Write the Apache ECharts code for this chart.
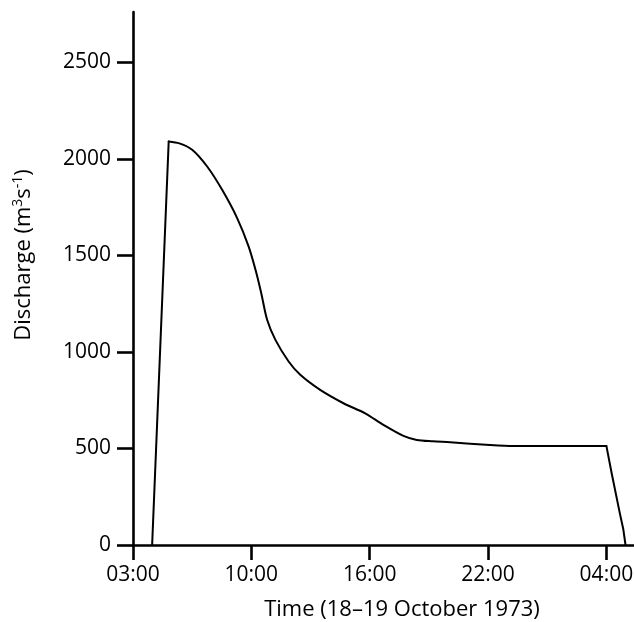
<!DOCTYPE html>
<html>
<head>
<meta charset="utf-8">
<script src="https://cdn.jsdelivr.net/npm/echarts@6/dist/echarts.min.js"></script>
<style>
  html, body { margin: 0; padding: 0; background: #fff; }
  #chart { width: 634px; height: 622px; }
</style>
</head>
<body>
<div id="chart"></div>
<script>
// Hours after the first axis tick, and river discharge (m^3/s) at those times
const hours = [0.97, 1.81, 2.35, 3.0, 3.76, 4.52, 5.28, 5.86, 6.25, 6.5, 6.8, 7.22, 7.89, 8.48, 9.49, 10.67, 11.77, 12.7, 13.71, 14.39, 15.2, 16.08, 18.1, 19.3, 21.1, 24.0, 24.28, 24.68, 24.86, 24.97];
const discharge = [0, 2090, 2080, 2047, 1960, 1839, 1693, 1546, 1410, 1305, 1166, 1062, 950, 881, 803, 734, 682, 622, 565, 544, 537, 532, 518, 513, 513, 513, 365, 165, 80, 0];

// Index of the flood peak and of the start of the final recession
const PEAK = 1;
const CUTOFF = 25;

// Axis ticks
const timeTicks = [0, 6, 12, 18, 24];
const timeLabels = ['03:00', '10:00', '16:00', '22:00', '04:00'];
const dischargeTicks = [0, 500, 1000, 1500, 2000, 2500];

const FONT = '"Open Sans", "Noto Sans", sans-serif';
const WEIGHT = 500;
const INK = '#000';

const points = hours.map((h, i) => [h, discharge[i]]);

// The sharp rise and the final cut-off are straight; the recession is smooth.
function hydrograph(data, smooth) {
  return {
    type: 'line',
    data,
    showSymbol: false,
    smooth,
    lineStyle: { color: INK, width: 2, cap: 'round', join: 'round' },
    silent: true
  };
}

const chart = echarts.init(document.getElementById('chart'), null, { renderer: 'canvas' });

chart.setOption({
  animation: false,
  backgroundColor: '#fff',
  grid: { left: 133, right: 0, top: 12, bottom: 77, containLabel: false, outerBoundsMode: 'none' },
  xAxis: {
    type: 'value',
    min: 0,
    max: 25.4,
    splitLine: { show: false },
    axisLine: { show: true, onZero: false, lineStyle: { color: INK, width: 2.6 } },
    axisTick: { show: true, length: 15, customValues: timeTicks, lineStyle: { color: INK, width: 2.6 } },
    axisLabel: {
      customValues: timeTicks,
      margin: 20,
      fontSize: 21,
      fontWeight: WEIGHT,
      fontFamily: FONT,
      color: INK,
      formatter: v => timeLabels[timeTicks.indexOf(v)] ?? ''
    }
  },
  yAxis: {
    type: 'value',
    min: 0,
    max: 2760,
    splitLine: { show: false },
    axisLine: { show: true, onZero: false, lineStyle: { color: INK, width: 2.6 } },
    axisTick: { show: true, length: 16, customValues: dischargeTicks, lineStyle: { color: INK, width: 2.6 } },
    axisLabel: {
      customValues: dischargeTicks,
      margin: 22,
      fontSize: 21,
      fontWeight: WEIGHT,
      fontFamily: FONT,
      color: INK,
      formatter: v => String(v)
    }
  },
  graphic: [
    {
      type: 'text',
      x: 402,
      y: 610,
      style: {
        text: 'Time (18–19 October 1973)',
        fontSize: 22,
        fontWeight: WEIGHT,
        fontFamily: FONT,
        fill: INK,
        align: 'center',
        verticalAlign: 'middle'
      }
    },
    {
      type: 'text',
      x: 24,
      y: 255,
      rotation: Math.PI / 2,
      style: {
        text: 'Discharge (m{sup|3}s{sup|-1})',
        fontSize: 22,
        fontWeight: WEIGHT,
        fontFamily: FONT,
        fill: INK,
        align: 'center',
        verticalAlign: 'middle',
        rich: {
          sup: { fontSize: 14, fontWeight: WEIGHT, fontFamily: FONT, fill: INK, verticalAlign: 'bottom', padding: [0, 0, 11, 0] }
        }
      }
    }
  ],
  series: [
    hydrograph(points.slice(0, PEAK + 1), false),
    hydrograph(points.slice(PEAK, CUTOFF + 1), 0.3),
    hydrograph(points.slice(CUTOFF), false)
  ]
});
</script>
</body>
</html>
